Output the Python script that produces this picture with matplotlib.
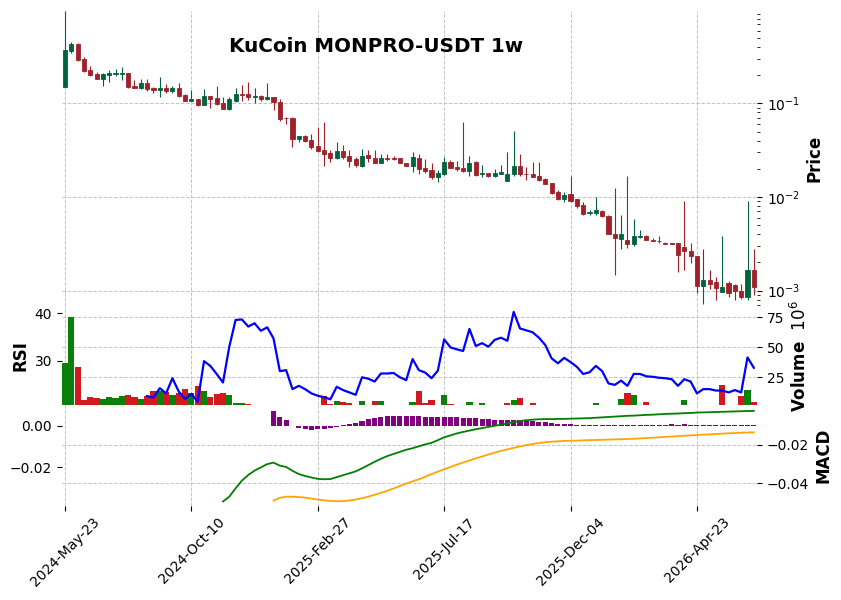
import numpy as np
import pandas as pd
import matplotlib
matplotlib.use("Agg")
import matplotlib.pyplot as plt
from matplotlib.ticker import FixedLocator

# ---- data (weekly candles, prices in USDT) ----
start_date = "2024-05-23"
title = "KuCoin MONPRO-USDT 1w"

opens = [0.151, 0.366, 0.431, 0.298, 0.227, 0.206, 0.182, 0.201, 0.208, 0.208,
         0.211, 0.153, 0.146, 0.165, 0.146, 0.139, 0.146, 0.1355, 0.146, 0.124,
         0.107, 0.111, 0.096, 0.120, 0.114, 0.1008, 0.087, 0.106, 0.126, 0.126,
         0.118, 0.120, 0.111, 0.117, 0.1033, 0.0697, 0.0697, 0.0416, 0.0448, 0.0406,
         0.0350, 0.0317, 0.0297, 0.0262, 0.0309, 0.0273, 0.0254, 0.0216, 0.0280, 0.0260,
         0.0232, 0.0260, 0.0260, 0.0260, 0.0230, 0.0216, 0.0260, 0.0202, 0.0194, 0.0164,
         0.0177, 0.0236, 0.0208, 0.0202, 0.0191, 0.0236, 0.0177, 0.0181, 0.0167, 0.0177,
         0.0149, 0.0174, 0.0214, 0.0175, 0.0176, 0.0167, 0.0155, 0.0141, 0.0112, 0.00948,
         0.0107, 0.00948, 0.00824, 0.00677, 0.00677, 0.00717, 0.00634, 0.0040, 0.00354, 0.00345,
         0.00313, 0.00375, 0.00381, 0.00348, 0.00341, 0.00326, 0.00321, 0.00321, 0.00291, 0.00264,
         0.00233, 0.00112, 0.00129, 0.00123, 0.000968, 0.00120, 0.00114, 0.000992, 0.000855, 0.00168]
highs = [0.972, 0.457, 0.438, 0.310, 0.251, 0.218, 0.213, 0.227, 0.231, 0.243,
         0.212, 0.178, 0.181, 0.181, 0.148, 0.190, 0.160, 0.153, 0.164, 0.126,
         0.139, 0.112, 0.141, 0.121, 0.153, 0.116, 0.116, 0.145, 0.157, 0.169,
         0.146, 0.123, 0.165, 0.118, 0.110, 0.0708, 0.0708, 0.0449, 0.0459, 0.0466,
         0.0563, 0.0626, 0.0317, 0.0383, 0.0358, 0.0317, 0.0269, 0.0322, 0.0317, 0.0317,
         0.0285, 0.0287, 0.0273, 0.0261, 0.0231, 0.0299, 0.0285, 0.0252, 0.0228, 0.0194,
         0.0265, 0.0248, 0.0242, 0.0626, 0.0273, 0.0240, 0.0219, 0.0182, 0.0197, 0.0219,
         0.0299, 0.0506, 0.0285, 0.0207, 0.0234, 0.0234, 0.0158, 0.0142, 0.0118, 0.0114,
         0.0167, 0.0096, 0.00888, 0.00723, 0.0100, 0.00723, 0.0064, 0.0126, 0.0065, 0.0167,
         0.00589, 0.00442, 0.00395, 0.00366, 0.00381, 0.00327, 0.00326, 0.00322, 0.00902, 0.00326,
         0.00235, 0.00281, 0.00168, 0.00141, 0.00387, 0.00126, 0.00117, 0.00119, 0.00900, 0.00275]
lows = [0.150, 0.348, 0.286, 0.218, 0.196, 0.182, 0.155, 0.171, 0.198, 0.178,
        0.146, 0.145, 0.1435, 0.1345, 0.128, 0.118, 0.130, 0.130, 0.118, 0.106,
        0.106, 0.0936, 0.095, 0.0899, 0.0952, 0.0868, 0.0849, 0.1025, 0.107, 0.1085,
        0.100, 0.107, 0.1085, 0.0849, 0.0653, 0.0601, 0.0338, 0.0389, 0.0389, 0.0322,
        0.0304, 0.0216, 0.0238, 0.0252, 0.0252, 0.0210, 0.0210, 0.0210, 0.0234, 0.0228,
        0.0228, 0.0244, 0.0248, 0.0228, 0.0215, 0.0183, 0.0178, 0.0181, 0.0154, 0.0145,
        0.0171, 0.0202, 0.0191, 0.0184, 0.0168, 0.0168, 0.0164, 0.0164, 0.0164, 0.0176,
        0.0149, 0.0168, 0.0167, 0.0151, 0.0162, 0.0150, 0.0137, 0.0107, 0.0094, 0.00888,
        0.00888, 0.00766, 0.0065, 0.00639, 0.00639, 0.00604, 0.00398, 0.00147, 0.00279, 0.00288,
        0.00301, 0.00366, 0.00343, 0.00338, 0.00324, 0.00312, 0.00313, 0.00158, 0.00168, 0.00195,
        0.000944, 0.00072, 0.00103, 0.00080, 0.000965, 0.000855, 0.00080, 0.00082, 0.00080, 0.00089]
closes = [0.372, 0.431, 0.291, 0.224, 0.201, 0.182, 0.206, 0.213, 0.211, 0.211,
          0.148, 0.146, 0.165, 0.142, 0.139, 0.146, 0.1355, 0.146, 0.120, 0.107,
          0.111, 0.096, 0.120, 0.111, 0.0984, 0.087, 0.111, 0.126, 0.123, 0.117,
          0.120, 0.111, 0.117, 0.1033, 0.068, 0.069, 0.0416, 0.0448, 0.0396, 0.0344,
          0.0312, 0.0287, 0.0262, 0.0309, 0.0269, 0.0244, 0.0219, 0.0273, 0.0262, 0.0232,
          0.0260, 0.0256, 0.0256, 0.0232, 0.0216, 0.0267, 0.0200, 0.0189, 0.0164, 0.0181,
          0.0236, 0.0205, 0.0199, 0.0189, 0.0228, 0.0173, 0.0180, 0.0167, 0.0180, 0.0184,
          0.0175, 0.0214, 0.0178, 0.0174, 0.0164, 0.0151, 0.0138, 0.0109, 0.00948, 0.0104,
          0.0091, 0.00798, 0.0066, 0.00688, 0.00735, 0.00624, 0.0040, 0.00363, 0.0040, 0.00313,
          0.00381, 0.00381, 0.00345, 0.00342, 0.00336, 0.00313, 0.00316, 0.00239, 0.00266, 0.00233,
          0.00112, 0.00129, 0.00119, 0.00107, 0.00109, 0.000944, 0.000984, 0.000855, 0.00165, 0.00108]

# volume in millions, and bar colour (1 = green, 0 = red)
volume_m = [37.2, 75.2, 33.6, 6.0, 8.5, 7.7, 6.9, 8.5, 7.7, 9.4,
            10.2, 8.5, 6.9, 9.4, 13.5, 13.5, 12.7, 10.2, 11.9, 15.2,
            11.6, 17.7, 13.5, 8.5, 11.0, 11.9, 10.2, 3.2, 3.5, 2.7,
            2.2, 1.0, 2.2, 1.0, 1.0, 1.0, 1.0, 1.0, 1.0, 2.2,
            1.0, 9.4, 2.7, 5.2, 4.3, 3.2, 1.0, 5.2, 2.2, 5.2,
            5.2, 1.0, 1.0, 2.2, 1.0, 4.3, 13.8, 3.2, 6.0, 2.2,
            10.2, 2.7, 2.2, 2.0, 4.3, 2.0, 3.2, 1.0, 2.2, 1.0,
            3.2, 6.0, 7.7, 1.0, 3.2, 1.0, 1.0, 1.0, 2.2, 1.0,
            1.0, 2.2, 1.0, 1.0, 3.2, 1.0, 1.0, 2.2, 6.9, 11.9,
            10.2, 2.2, 4.3, 1.0, 1.0, 1.0, 1.0, 1.0, 6.0, 1.0,
            2.2, 2.2, 2.2, 2.2, 18.6, 2.2, 2.2, 9.6, 14.4, 4.3]
volume_up = [1, 1, 0, 0, 0, 0, 1, 1, 1, 1,
             0, 0, 1, 0, 0, 1, 0, 1, 0, 0,
             1, 0, 1, 0, 0, 0, 1, 1, 1, 0,
             1, 0, 1, 0, 0, 0, 0, 1, 0, 0,
             0, 0, 0, 1, 0, 0, 0, 1, 0, 0,
             1, 0, 0, 0, 0, 1, 0, 0, 0, 1,
             1, 0, 0, 0, 1, 0, 1, 0, 1, 1,
             0, 1, 0, 0, 0, 0, 0, 0, 0, 1,
             0, 0, 0, 1, 1, 0, 0, 0, 1, 0,
             1, 1, 0, 0, 0, 0, 0, 0, 1, 0,
             0, 1, 0, 0, 0, 0, 1, 0, 1, 0]

# RSI starts at candle 13
rsi_start = 13
rsi = [22.55, 22.2, 24.2, 23.1, 26.3, 23.5, 21.9, 23.0, 21.35, 29.9,
       28.9, 27.2, 25.4, 32.95, 38.6, 38.7, 37.2, 37.9, 36.3, 37.05,
       34.7, 27.8, 28.0, 24.0, 24.7, 24.0, 23.1, 22.6, 22.3, 21.85,
       24.5, 23.8, 23.3, 22.8, 26.5, 26.2, 25.6, 27.3, 27.3, 27.4,
       26.5, 25.9, 30.35, 28.0, 27.5, 26.3, 27.9, 34.5, 32.8, 32.4,
       32.05, 36.7, 33.1, 33.7, 32.95, 34.4, 34.85, 34.2, 40.3, 36.8,
       36.4, 36.0, 34.85, 33.3, 30.5, 29.45, 30.6, 29.7, 28.7, 27.2,
       27.55, 28.9, 27.8, 25.2, 24.9, 25.8, 24.7, 27.2, 27.2, 26.7,
       26.6, 26.4, 26.3, 26.1, 24.7, 26.1, 25.6, 23.1, 24.0, 24.0,
       23.7, 23.7, 23.3, 23.8, 23.3, 30.7, 28.5]

# MACD line starts at candle 25, signal and histogram at candle 33
macd_start = 25
macd = [-0.0495, -0.0470, -0.0426, -0.0386, -0.0357, -0.0334, -0.0317, -0.0300, -0.0292, -0.0308,
        -0.0315, -0.0335, -0.0352, -0.0362, -0.0370, -0.0377, -0.0379, -0.0378, -0.0368, -0.0358,
        -0.0348, -0.0338, -0.0322, -0.0305, -0.0288, -0.0272, -0.0258, -0.0247, -0.0236, -0.0225,
        -0.0217, -0.0207, -0.0197, -0.0189, -0.0175, -0.0160, -0.0150, -0.0140, -0.0132, -0.0125,
        -0.0118, -0.0112, -0.0106, -0.0100, -0.0094, -0.0088, -0.0081, -0.0075, -0.0071, -0.0068,
        -0.0066, -0.0065, -0.0065, -0.0064, -0.0064, -0.0063, -0.0062, -0.0061, -0.0060, -0.0058,
        -0.0056, -0.0054, -0.0052, -0.0050, -0.0048, -0.0047, -0.0045, -0.0043, -0.0042, -0.0040,
        -0.0038, -0.0037, -0.0036, -0.0034, -0.0033, -0.0031, -0.0030, -0.0029, -0.0028, -0.0027,
        -0.0026, -0.0025, -0.0024, -0.0023, -0.0022]
signal_start = 33
signal = [-0.0490, -0.0476, -0.0470, -0.0470, -0.0472, -0.0475, -0.0480, -0.0485, -0.0489, -0.0492,
          -0.0494, -0.0493, -0.0490, -0.0485, -0.0478, -0.0470, -0.0460, -0.0450, -0.0439, -0.0427,
          -0.0414, -0.0402, -0.0390, -0.0379, -0.0366, -0.0352, -0.0339, -0.0327, -0.0315, -0.0303,
          -0.0292, -0.0281, -0.0270, -0.0260, -0.0250, -0.0240, -0.0231, -0.0223, -0.0215, -0.0208,
          -0.0201, -0.0195, -0.0190, -0.0186, -0.0183, -0.0181, -0.0179, -0.0178, -0.0177, -0.0176,
          -0.0175, -0.0174, -0.0173, -0.0172, -0.0171, -0.0170, -0.0169, -0.0168, -0.0166, -0.0164,
          -0.0162, -0.0160, -0.0158, -0.0156, -0.0154, -0.0152, -0.0150, -0.0148, -0.0146, -0.0145,
          -0.0143, -0.0141, -0.0139, -0.0138, -0.0136, -0.0135, -0.0134]
histogram = [0.0073, 0.0045, 0.0029, 0.0, -0.0010, -0.0013, -0.0019, -0.0016, -0.0013, -0.0010,
             -0.0005, 0.0005, 0.0010, 0.0016, 0.0026, 0.0034, 0.0037, 0.0042, 0.0048, 0.0050,
             0.0050, 0.0050, 0.0050, 0.0048, 0.0045, 0.0042, 0.0045, 0.0045, 0.0044, 0.0041,
             0.0040, 0.0040, 0.0037, 0.0034, 0.0034, 0.0029, 0.0029, 0.0029, 0.0029, 0.0029,
             0.0026, 0.0024, 0.0021, 0.0018, 0.0013, 0.0010, 0.0008, 0.0008, 0.0004, 0.0004,
             0.0004, 0.0004, 0.0004, 0.0004, 0.0004, 0.0004, 0.0004, 0.0004, 0.0004, 0.0004,
             0.0004, 0.0004, 0.0004, 0.0007, 0.0004, 0.0008, 0.0004, 0.0004, 0.0004, 0.0004,
             0.0004, 0.0004, 0.0004, 0.0004, 0.0004, 0.0004, 0.0004]

# ---- layout ----
n = len(closes)
x = np.arange(n)
dates = pd.date_range(start_date, periods=n, freq="7D")
tick_idx = list(range(0, n, 20))
tick_labels = [dates[i].strftime("%Y-%b-%d") for i in tick_idx]

up_col, down_col = "#006340", "#A02128"
vol_green, vol_red = "#0a7f0a", "#d31920"
grid_kw = dict(linestyle="--", color="#c4c4c4", linewidth=0.7)

fig = plt.figure(figsize=(8.41, 6.0), dpi=100)
left, width = 0.0735, 0.8266
ax_price = fig.add_axes([left, 0.49, width, 0.4917])
ax_vol = fig.add_axes([left, 0.3242, width, 0.1658], sharex=ax_price)
ax_macd = fig.add_axes([left, 0.1575, width, 0.1667], sharex=ax_price)

# ---- candles ----
cols = [up_col if c >= o else down_col for o, c in zip(opens, closes)]
lo_body = np.minimum(opens, closes)
hi_body = np.maximum(opens, closes)
ax_price.vlines(x, lows, highs, colors=cols, linewidth=0.8, zorder=2)
ax_price.bar(x, hi_body - lo_body, bottom=lo_body, width=0.65, color=cols,
             edgecolor=cols, linewidth=0.6, zorder=3)
ax_price.set_yscale("log")
ax_price.set_ylim(6.85e-4, 0.97)
ax_price.yaxis.tick_right()
ax_price.yaxis.set_label_position("right")
ax_price.set_ylabel("Price", fontsize=12, fontweight="bold")
ax_price.grid(True, which="major", **grid_kw)
ax_price.tick_params(axis="x", bottom=False, labelbottom=False)

# ---- volume (right axis) + RSI (left axis) ----
ax_rsi = ax_vol.twinx()
vcols = [vol_green if u else vol_red for u in volume_up]
ax_vol.bar(x, volume_m, width=0.98, color=vcols, zorder=2)
ax_vol.set_ylim(1.4, 84.6)
ax_vol.yaxis.set_major_locator(FixedLocator([25, 50, 75]))
ax_vol.yaxis.tick_right()
ax_vol.yaxis.set_label_position("right")
ax_vol.set_ylabel("Volume  $10^{6}$", fontsize=12, fontweight="bold")
ax_vol.grid(True, **grid_kw)
ax_vol.tick_params(axis="x", bottom=False, labelbottom=False)

ax_rsi.plot(x[rsi_start:], rsi, color="blue", linewidth=1.6)
ax_rsi.set_ylim(20.55, 41.54)
ax_rsi.yaxis.set_major_locator(FixedLocator([30, 40]))
ax_rsi.yaxis.tick_left()
ax_rsi.yaxis.set_label_position("left")
ax_rsi.set_ylabel("RSI", fontsize=12, fontweight="bold")
ax_rsi.tick_params(axis="x", bottom=False, labelbottom=False)

# ---- MACD: histogram on the left axis, lines on the right axis ----
ax_lines = ax_macd.twinx()
ax_macd.bar(x[signal_start:], histogram, width=0.8, color="purple", zorder=2)
ax_macd.set_ylim(-0.0385, 0.0099)
ax_macd.yaxis.set_major_locator(FixedLocator([-0.02, 0.0]))
ax_macd.yaxis.set_major_formatter(plt.FuncFormatter(lambda v, p: f"{v:.2f}".replace("-", "\u2212")))
ax_macd.yaxis.tick_left()
ax_macd.grid(True, axis="x", **grid_kw)

ax_lines.plot(x[macd_start:], macd, color="green", linewidth=1.3)
ax_lines.plot(x[signal_start:], signal, color="orange", linewidth=1.3)
ax_lines.set_ylim(-0.0516, 0.0006)
ax_lines.yaxis.set_major_locator(FixedLocator([-0.04, -0.02]))
ax_lines.yaxis.set_major_formatter(plt.FuncFormatter(lambda v, p: f"{v:.2f}".replace("-", "\u2212")))
ax_lines.yaxis.tick_right()
ax_lines.yaxis.set_label_position("right")
ax_lines.set_ylabel("MACD", fontsize=12, fontweight="bold")
ax_lines.grid(True, axis="y", **grid_kw)

ax_macd.set_xlim(-0.5, n - 0.5)
ax_macd.set_xticks(tick_idx)
ax_macd.set_xticklabels(tick_labels, rotation=45, ha="center")

for a in (ax_price, ax_vol, ax_rsi, ax_macd, ax_lines):
    for s in a.spines.values():
        s.set_visible(False)

fig.text(376 / 841, 1 - 47 / 600, title, ha="center", va="center",
         fontsize=14.3, fontweight="bold")

fig.savefig("out.png", dpi=100)
